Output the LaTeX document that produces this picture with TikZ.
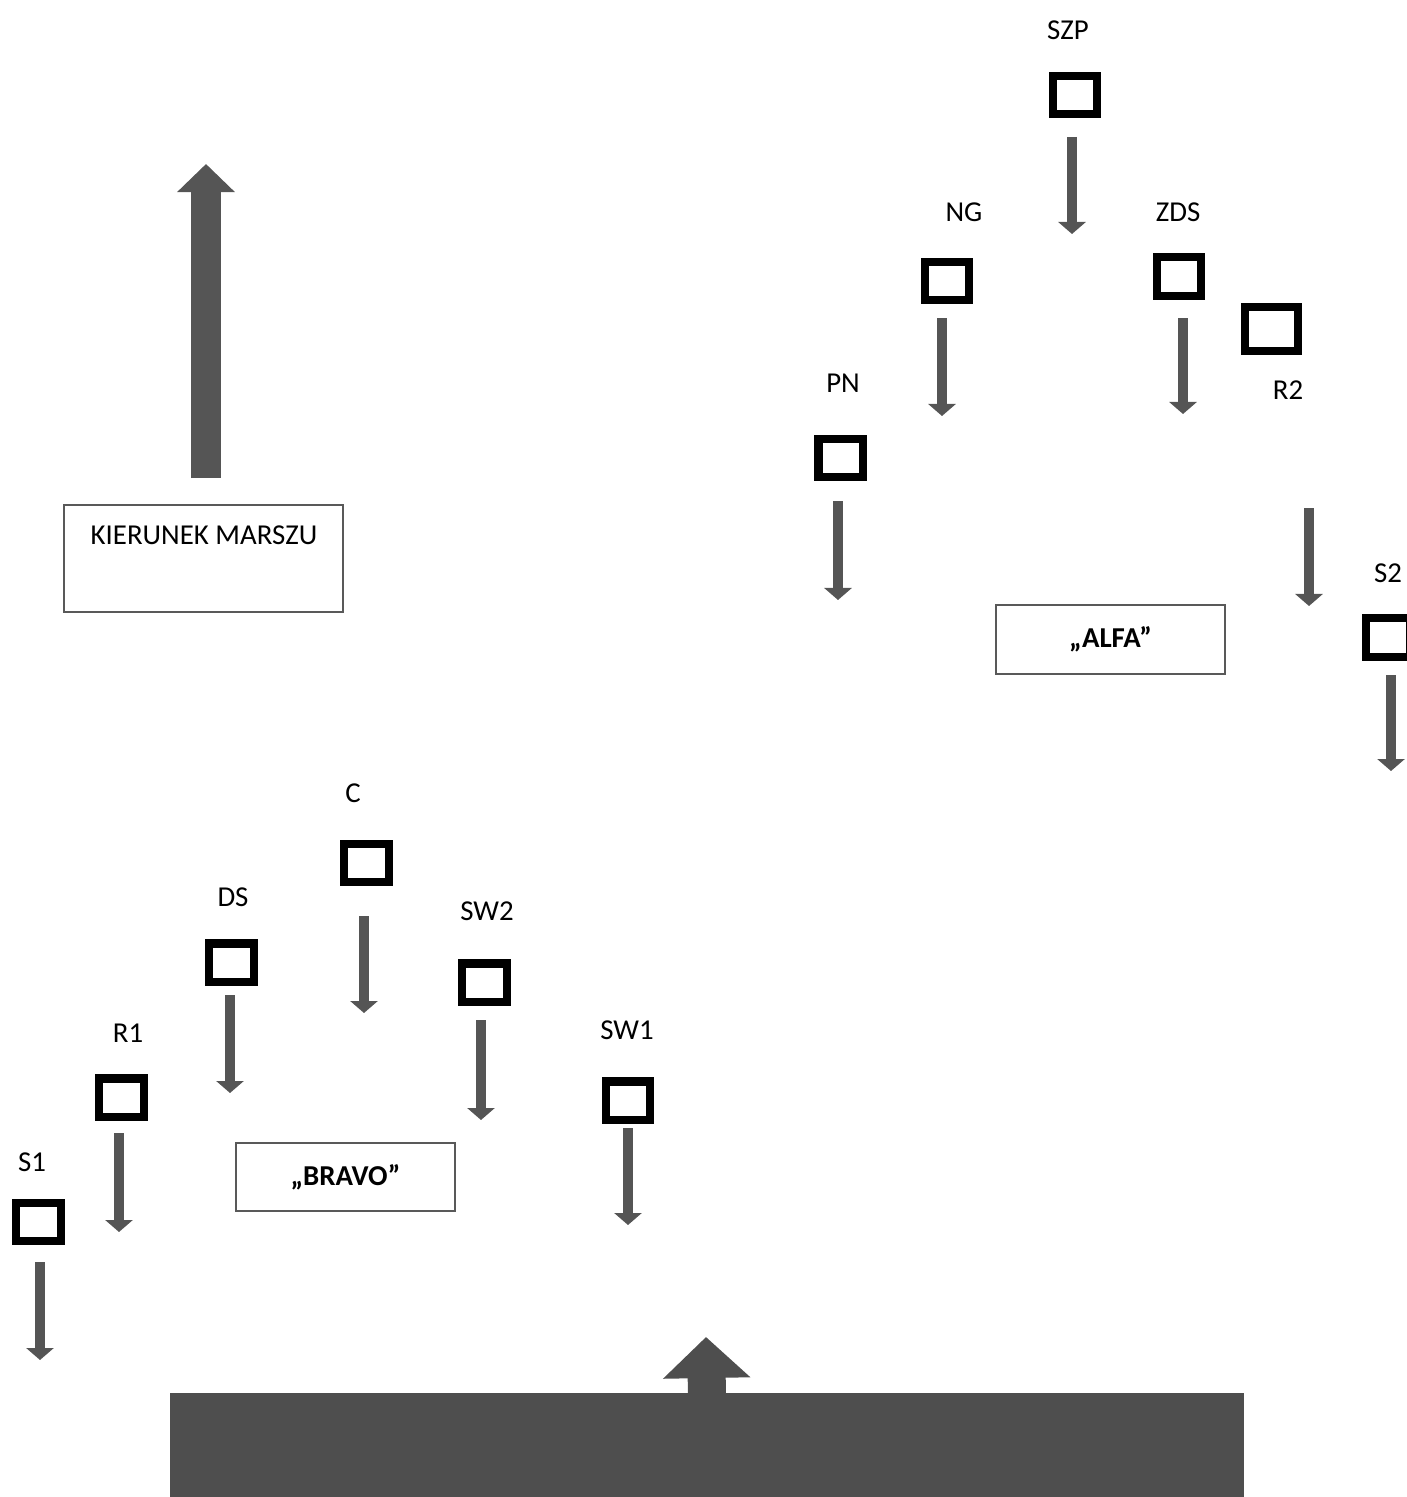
\documentclass[tikz,border=0pt]{standalone}
\usepackage{fontspec}
\setmainfont{Carlito}
\usetikzlibrary{positioning, arrows.meta, calc}
\definecolor{arrowgray}{RGB}{85,85,85}
\definecolor{bargray}{RGB}{78,78,78}

\begin{document}
\begin{tikzpicture}[x=0.01cm, y=-0.01cm,
  font=\fontsize{8.2}{10}\selectfont,
  post/.style={draw=black, line width=0.08cm, fill=white, minimum width=0.44cm, minimum height=0.38cm, inner sep=0pt},
  lbl/.style={inner sep=0pt},
  team/.style={draw=black!65, line width=0.5pt, fill=white, inner sep=0pt},
  march/.style={draw=arrowgray, line width=0.10cm, -{Triangle[width=0.27cm, length=0.12cm]}}]
\useasboundingbox (0,0) rectangle (1407,1497);

% direction of march
\coordinate (up0) at (206,478); \coordinate (up1) at (206,164);
\draw[arrowgray, line width=0.30cm, -{Triangle[width=0.56cm, length=0.28cm]}] (up0) -- (up1);
\node[team, minimum width=2.79cm, minimum height=1.07cm] (kier) at (203.5,558.5) {};
\node[lbl] (kiert) at (204,535) {KIERUNEK MARSZU};

% group ALFA
\node[post] (szp) at (1074.5,95) {};
\node[post] (ng)  at (947,281) {};
\node[post] (zds) at (1179,276.5) {};
\node[post, minimum width=0.53cm, minimum height=0.44cm] (r2) at (1271.5,329) {};
\node[post] (pn)  at (840.5,458) {};
\node[post] (s2)  at (1388,637.5) {};
\node[lbl] (szpl) at (1068,30) {SZP};
\node[lbl] (ngl)  at (964,212) {NG};
\node[lbl] (zdsl) at (1178,212) {ZDS};
\node[lbl] (r2l)  at (1288,390) {R2};
\node[lbl] (pnl)  at (843,383) {PN};
\node[lbl] (s2l)  at (1388,573) {S2};
\draw[march] ($(szp)+(-2.5,42)$) -- ++(0,97); \draw[march] ($(ng)+(-5,37)$) -- ++(0,98);
\draw[march] ($(zds)+(4,41.5)$) -- ++(0,96); \draw[march] ($(pn)+(-2.5,43)$) -- ++(0,99);
\draw[march] ($(r2)+(37.5,179)$) -- ++(0,98); \draw[march] ($(s2)+(3,37.5)$) -- ++(0,96);
\node[team, minimum width=2.29cm, minimum height=0.69cm, font=\fontsize{8.2}{10}\selectfont\bfseries] (alfa) at (1110.5,639.5) {„ALFA”};

% group BRAVO
\node[post] (c)   at (366.5,863) {};
\node[post] (ds)  at (231.5,962.5) {};
\node[post] (sw2) at (484.5,982.5) {};
\node[post] (sw1) at (628,1100.5) {};
\node[post] (r1)  at (121.5,1097.5) {};
\node[post] (s1)  at (38.5,1222) {};
\node[lbl] (cl)   at (353,793) {C};
\node[lbl] (dsl)  at (233,897) {DS};
\node[lbl] (sw2l) at (487,911) {SW2};
\node[lbl] (sw1l) at (627,1030) {SW1};
\node[lbl] (r1l)  at (128,1033) {R1};
\node[lbl] (s1l)  at (32,1162) {S1};
\draw[march] ($(c)+(-2.5,53)$) -- ++(0,97); \draw[march] ($(ds)+(-1.5,32.5)$) -- ++(0,98);
\draw[march] ($(sw2)+(-3.5,37.5)$) -- ++(0,100); \draw[march] ($(sw1)+(0,27.5)$) -- ++(0,97);
\draw[march] ($(r1)+(-2.5,35.5)$) -- ++(0,99); \draw[march] ($(s1)+(1.5,40)$) -- ++(0,98);
\node[team, minimum width=2.19cm, minimum height=0.68cm, font=\fontsize{8.2}{10}\selectfont\bfseries] (bravo) at (345.5,1177) {„BRAVO”};

% front rank
\node[fill=bargray, minimum width=10.74cm, minimum height=1.4cm, inner sep=0pt, anchor=north west] (front) at (169,1392) {};
\coordinate (fronttip) at (706,1337);
\draw[bargray, line width=0.38cm, -{Triangle[width=0.85cm, length=0.41cm]}] ($(front.north)+(0,5)$) -- (fronttip);
\end{tikzpicture}
\end{document}
